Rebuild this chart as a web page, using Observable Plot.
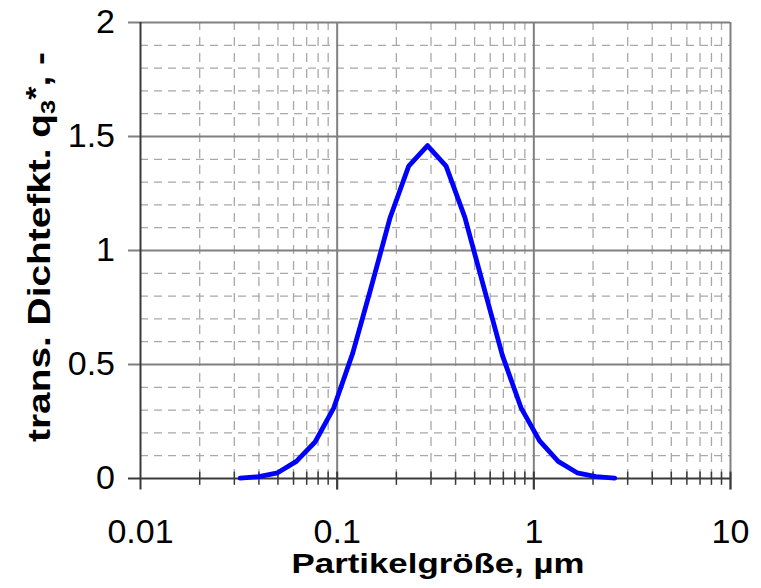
<!DOCTYPE html>
<html>
<head>
<meta charset="utf-8">
<script src="https://cdn.jsdelivr.net/npm/d3@7"></script>
<script src="https://cdn.jsdelivr.net/npm/@observablehq/plot@0.6"></script>
<style>
  html, body { margin: 0; padding: 0; background: white; overflow: hidden; }
</style>
</head>
<body>
<script>
// Particle size (µm) and transformed density q3*
const sizes = [0.0321, 0.0400, 0.0498, 0.0620, 0.0772, 0.0961, 0.120, 0.149, 0.186, 0.231, 0.288,
               0.358, 0.446, 0.556, 0.692, 0.861, 1.07, 1.33, 1.66, 2.07, 2.58];
const q3 = [0.002, 0.008, 0.025, 0.075, 0.16, 0.31, 0.55, 0.84, 1.145, 1.37, 1.46,
            1.37, 1.145, 0.84, 0.54, 0.31, 0.165, 0.075, 0.025, 0.008, 0.002];

const xMajorTicks = [0.01, 0.1, 1, 10];
const xTickLabels = ["0.01", "0.1", "1", "10"];
const xMinorTicks = [0.02, 0.03, 0.04, 0.05, 0.06, 0.07, 0.08, 0.09,
                     0.2, 0.3, 0.4, 0.5, 0.6, 0.7, 0.8, 0.9,
                     2, 3, 4, 5, 6, 7, 8, 9];
const yMajorTicks = [0, 0.5, 1, 1.5, 2];
const yTickLabels = ["0", "0.5", "1", "1.5", "2"];
const yMinorTicks = [0.1, 0.2, 0.3, 0.4, 0.6, 0.7, 0.8, 0.9, 1.1, 1.2, 1.3, 1.4, 1.6, 1.7, 1.8, 1.9];

const xTitle = "Partikelgröße, µm";
const yTitleParts = ["trans. Dichtefkt. q", "3", "*", ", -"];

const data = sizes.map((s, i) => ({size: s, q: q3[i]}));

const gridMinor = "#a8a8a8";
const gridMajor = "#808080";
const axisDark = "#3a3a3a";
const xLeftTick = 0.00869; // a bit left of the 0.01 axis, for outward y ticks

const svg = Plot.plot({
  width: 761,
  height: 588,
  marginLeft: 140,
  marginRight: 31,
  marginTop: 22,
  marginBottom: 110,
  x: {type: "log", domain: [0.01, 10]},
  y: {domain: [0, 2]},
  style: {fontFamily: "'Liberation Sans', Arial, sans-serif", fontSize: "34px", background: "white", color: "black"},
  marks: [
    // minor dashed grid
    Plot.ruleY(yMinorTicks, {x1: 0.01, x2: 10, stroke: gridMinor, strokeWidth: 1.3, strokeDasharray: "8,6"}),
    Plot.ruleX(xMinorTicks, {y1: 0, y2: 2, stroke: gridMinor, strokeWidth: 1.3, strokeDasharray: "9,7"}),
    // major grid (with outward y ticks)
    Plot.ruleY(yMajorTicks.filter(d => d > 0), {x1: xLeftTick, x2: 10, stroke: gridMajor, strokeWidth: 2}),
    Plot.ruleX(xMajorTicks.filter(d => d > 0.01), {y1: -0.05, y2: 2, stroke: gridMajor, strokeWidth: 2}),
    // axes
    Plot.ruleX([0.01], {y1: -0.05, y2: 2, stroke: axisDark, strokeWidth: 2}),
    Plot.ruleY([0], {x1: xLeftTick, x2: 10, stroke: axisDark, strokeWidth: 2}),
    // tick marks crossing the x axis
    Plot.ruleX(xMinorTicks, {y1: -0.03, y2: 0.028, stroke: axisDark, strokeWidth: 1.5}),
    Plot.ruleX(xMajorTicks.filter(d => d > 0.01), {y1: -0.05, y2: 0.028, stroke: axisDark, strokeWidth: 2}),
    // the curve
    Plot.line(data, {x: "size", y: "q", stroke: "#0000ff", strokeWidth: 4.8, strokeLinejoin: "round"}),
    // tick labels
    Plot.axisX(xMajorTicks, {
      anchor: "bottom", tickSize: 0, tickPadding: 40, fontSize: "34px", label: null,
      tickFormat: d => xTickLabels[xMajorTicks.indexOf(d)]
    }),
    Plot.axisY(yMajorTicks, {
      anchor: "left", tickSize: 0, tickPadding: 25.5, fontSize: "34px", label: null,
      tickFormat: d => yTickLabels[yMajorTicks.indexOf(d)]
    })
  ]
});

document.body.append(svg);
const s = d3.select(svg);

// x-axis title
const xt = s.append("text")
  .attr("font-size", 28)
  .attr("font-weight", "bold")
  .attr("fill", "black")
  .attr("text-anchor", "middle")
  .text(xTitle);
const xw = xt.node().getComputedTextLength();
xt.attr("transform", `translate(438,573) scale(${293 / xw},1)`);

// y-axis title (rotated) with subscript and superscript
const yt = s.append("text")
  .attr("font-size", 32)
  .attr("font-weight", "bold")
  .attr("fill", "black")
  .attr("text-anchor", "middle");
yt.append("tspan").text(yTitleParts[0]);
yt.append("tspan").attr("font-size", 21).attr("dy", 5).text(yTitleParts[1]);
yt.append("tspan").attr("font-size", 28).attr("dy", -10).text(yTitleParts[2]);
yt.append("tspan").attr("dy", 5).text(yTitleParts[3]);
const yw = yt.node().getComputedTextLength();
yt.attr("transform", `translate(50,247) rotate(-90) scale(${390 / yw},1)`);
</script>
</body>
</html>
